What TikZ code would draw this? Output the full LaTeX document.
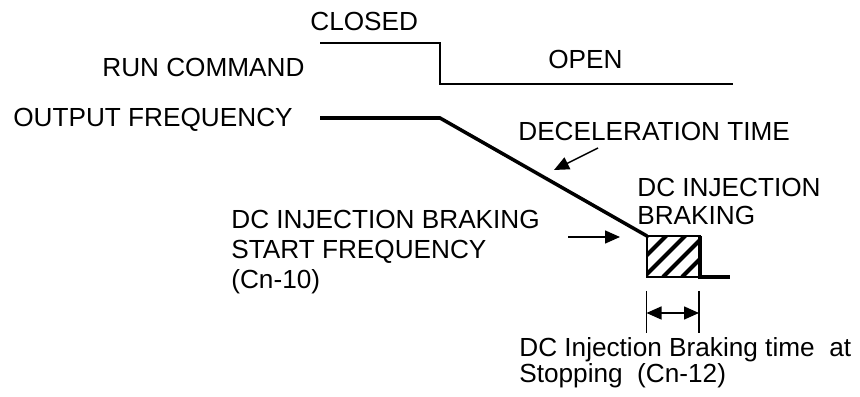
\documentclass[tikz,border=0pt]{standalone}
\usepackage{fontspec}
\setmainfont{Liberation Sans}
\usetikzlibrary{arrows.meta}

\begin{document}
\begin{tikzpicture}[>={Triangle[length=3mm,width=2.6mm]},
  lbl/.style={inner sep=0pt,anchor=base west,align=left,font=\fontsize{14.9}{16}\selectfont},
  sig/.style={line width=0.85pt},
  freq/.style={line width=2pt}]
  \useasboundingbox (0,0) rectangle (17.2,7.94);
  % run command
  \coordinate (rc0) at (6.40,7.08); \coordinate (rc1) at (8.80,7.08);
  \coordinate (rc2) at (8.80,6.26); \coordinate (rc3) at (14.66,6.26);
  \draw[sig] (rc0) -- (rc1) -- (rc2) -- (rc3);
  % output frequency
  \coordinate (of0) at (6.40,5.58); \coordinate (of1) at (8.80,5.58);
  \coordinate (of2) at (12.94,3.22); \coordinate (dcb) at (14.00,2.40);
  \coordinate (of3) at (14.60,2.40);
  \begin{scope}
    \clip (of2) rectangle (dcb);
    \foreach \x in {-1.2,-0.82,...,1.2} {\draw[line width=2.4pt] (12.94+\x,2.40) -- ++(0.9,0.9);}
  \end{scope}
  \draw[sig] (of2) rectangle (dcb);
  \draw[freq] (dcb |- of2) -- (dcb) -- (of3);
  \draw[freq] (of0) -- (of1) -- (of2);
  % labels (base = last line)
  \node[lbl] (closed) at (6.20,7.32) {CLOSED};
  \node[lbl] (run) at (2.04,6.40) {RUN COMMAND};
  \node[lbl] (open) at (10.96,6.56) {OPEN};
  \node[lbl] (out) at (0.26,5.40) {OUTPUT FREQUENCY};
  \node[lbl] (decel) at (10.36,5.12) {DECELERATION TIME};
  \node[lbl] (dcinj) at (12.74,3.44) {DC INJECTION\\BRAKING};
  \node[lbl,font=\fontsize{14.9}{17.2}\selectfont] (start) at (4.62,2.16) {DC INJECTION BRAKING\\START FREQUENCY\\(Cn-10)};
  \node[lbl,font=\fontsize{14.9}{14.8}\selectfont] (dctime) at (10.38,0.28) {DC Injection Braking time~ at\\Stopping~ (Cn-12)};
  % pointers
  \coordinate (d0) at (11.96,4.98); \coordinate (d1) at (11.08,4.54);
  \draw[sig,->] (d0) -- (d1);
  \coordinate (s0) at (11.36,3.20); \coordinate (s1) at (12.40,3.20);
  \draw[sig,->] (s0) -- (s1);
  % braking time
  \coordinate (t0) at (12.93,2.12); \coordinate (t1) at (13.98,2.12);
  \coordinate (a0) at (12.93,1.68); \coordinate (a1) at (13.98,1.68);
  \draw[line width=0.6pt] (t0) -- ++(0,-0.84);
  \draw[line width=0.6pt] (t1) -- ++(0,-0.84);
  \draw[sig,<->] (a0) -- (a1);
\end{tikzpicture}
\end{document}
